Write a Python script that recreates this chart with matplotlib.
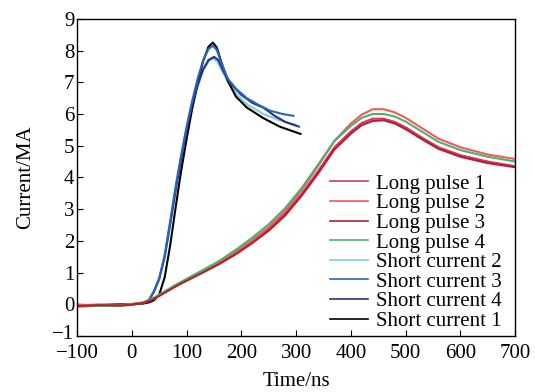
import matplotlib
matplotlib.use("Agg")
import matplotlib.pyplot as plt
import matplotlib.transforms as mtransforms

plt.rcParams['font.family'] = ['Liberation Serif', 'DejaVu Serif']

# ---- data ----
t_long = [-100, -60, -20, 0, 20, 40, 60, 80, 100, 130, 160, 190, 220, 250, 280, 310,
          340, 370, 400, 420, 440, 460, 480, 500, 530, 560, 600, 650, 700]
long1 = [-0.05, -0.02, -0.03, 0.0, 0.04, 0.18, 0.38, 0.58, 0.76, 1.03, 1.30, 1.62, 1.97,
         2.37, 2.86, 3.48, 4.20, 4.95, 5.45, 5.72, 5.85, 5.85, 5.75, 5.58, 5.25, 4.95,
         4.70, 4.50, 4.35]
long2 = [-0.03, -0.01, -0.02, 0.01, 0.06, 0.20, 0.40, 0.60, 0.78, 1.06, 1.33, 1.66, 2.02,
         2.43, 2.94, 3.60, 4.36, 5.15, 5.70, 5.98, 6.15, 6.15, 6.05, 5.88, 5.55, 5.22,
         4.95, 4.72, 4.58]
long3 = [-0.06, -0.03, -0.04, -0.01, 0.03, 0.16, 0.36, 0.56, 0.74, 1.00, 1.27, 1.58, 1.93,
         2.32, 2.80, 3.42, 4.12, 4.88, 5.38, 5.65, 5.78, 5.80, 5.70, 5.52, 5.20, 4.90,
         4.65, 4.45, 4.32]
long4 = [-0.08, -0.05, -0.05, -0.02, 0.04, 0.19, 0.40, 0.61, 0.80, 1.08, 1.37, 1.72, 2.10,
         2.52, 3.03, 3.66, 4.40, 5.15, 5.62, 5.88, 6.00, 6.00, 5.92, 5.76, 5.44, 5.12,
         4.86, 4.65, 4.50]

t_s1 = [-100, -60, -20, 0, 20, 30, 40, 50, 60, 70, 80, 90, 100, 110, 120, 130, 140, 148,
        155, 165, 175, 190, 210, 240, 270, 308]
short1 = [-0.02, -0.03, 0.0, 0.0, 0.02, 0.05, 0.12, 0.30, 0.85, 1.85, 3.05, 4.20, 5.20,
          6.15, 6.95, 7.65, 8.12, 8.25, 8.10, 7.55, 7.05, 6.55, 6.20, 5.87, 5.60, 5.37]

t_s2 = [-100, -60, -20, 0, 20, 30, 40, 50, 60, 70, 80, 90, 100, 110, 120, 130, 140, 148,
        156, 165, 174, 190, 210, 240, 270, 300]
short2 = [-0.03, -0.02, -0.01, 0.0, 0.03, 0.10, 0.38, 0.78, 1.45, 2.50, 3.55, 4.50, 5.40,
          6.20, 6.85, 7.35, 7.65, 7.75, 7.65, 7.35, 7.07, 6.65, 6.30, 6.00, 5.80, 5.65]

t_s3 = [-100, -60, -20, 0, 20, 30, 40, 50, 60, 70, 80, 90, 100, 110, 120, 130, 140, 148,
        155, 165, 175, 190, 210, 230, 253, 275, 295]
short3 = [-0.02, -0.04, -0.01, 0.0, 0.03, 0.10, 0.40, 0.82, 1.55, 2.62, 3.72, 4.70, 5.60,
          6.40, 7.10, 7.68, 8.05, 8.15, 8.02, 7.55, 7.12, 6.80, 6.50, 6.30, 6.10, 6.00, 5.94]

t_s4 = [-100, -60, -20, 0, 20, 30, 40, 50, 60, 70, 80, 90, 100, 110, 120, 130, 140, 150,
        158, 168, 180, 200, 220, 240, 260, 280, 305]
short4 = [-0.04, -0.03, -0.02, 0.0, 0.03, 0.09, 0.38, 0.80, 1.50, 2.52, 3.60, 4.60, 5.50,
          6.30, 6.90, 7.40, 7.70, 7.80, 7.70, 7.32, 6.97, 6.60, 6.35, 6.20, 5.95, 5.75, 5.60]

labels = ["Long pulse 1", "Long pulse 2", "Long pulse 3", "Long pulse 4",
          "Short current 2", "Short current 3", "Short current 4", "Short current 1"]
colors = ["#d6336f", "#ef5a5a", "#b3202c", "#4fb06a",
          "#7ccfdb", "#2a66b8", "#2e2f86", "#000000"]

x_ticks = [-100, 0, 100, 200, 300, 400, 500, 600, 700]
y_ticks = [-1, 0, 1, 2, 3, 4, 5, 6, 7, 8, 9]

FS = 15

fig = plt.figure(figsize=(5.35, 3.92), dpi=100)
ax = fig.add_axes([0.144, 0.143, 0.819, 0.809])

series = [(t_long, long1), (t_long, long2), (t_long, long3), (t_long, long4),
          (t_s2, short2), (t_s3, short3), (t_s4, short4), (t_s1, short1)]
order = [4, 7, 6, 5, 0, 1, 3, 2]
lines = [None] * 8
for i in order:
    tx, vy = series[i]
    ln, = ax.plot(tx, vy, color=colors[i], lw=1.5, label=labels[i])
    lines[i] = ln

ax.set_xlim(-100, 700)
ax.set_ylim(-1, 9)
ax.set_xticks(x_ticks)
ax.set_yticks(y_ticks)
ax.set_xticklabels([f"\u2212{abs(v)}" if v < 0 else str(v) for v in x_ticks])
ax.set_yticklabels([f"\u2212{abs(v)}" if v < 0 else str(v) for v in y_ticks])
ax.tick_params(direction='in', length=4, labelsize=FS, top=False, right=False)
ax.tick_params(axis='x', pad=6)
ax.tick_params(axis='y', pad=2)
for s in ax.spines.values():
    s.set_linewidth(1.0)

# nudge the lowest y label up a little so it does not collide with "−100"
lowest = ax.get_yticklabels()[0]
lowest.set_transform(lowest.get_transform() +
                     mtransforms.ScaledTranslation(0, 3 / 72, fig.dpi_scale_trans))

ax.set_xlabel("Time/ns", fontsize=FS, labelpad=6)
ax.set_ylabel("Current/MA", fontsize=FS, labelpad=12)

leg = ax.legend(lines, labels, loc='lower left', bbox_to_anchor=(0.578, 0.016),
                frameon=False, fontsize=FS, handlelength=1.83, handletextpad=0.34,
                labelspacing=0.0, borderaxespad=0.0, borderpad=0.0)
for h in leg.get_lines():
    h.set_linewidth(1.2)

fig.savefig("out.png", dpi=100)
